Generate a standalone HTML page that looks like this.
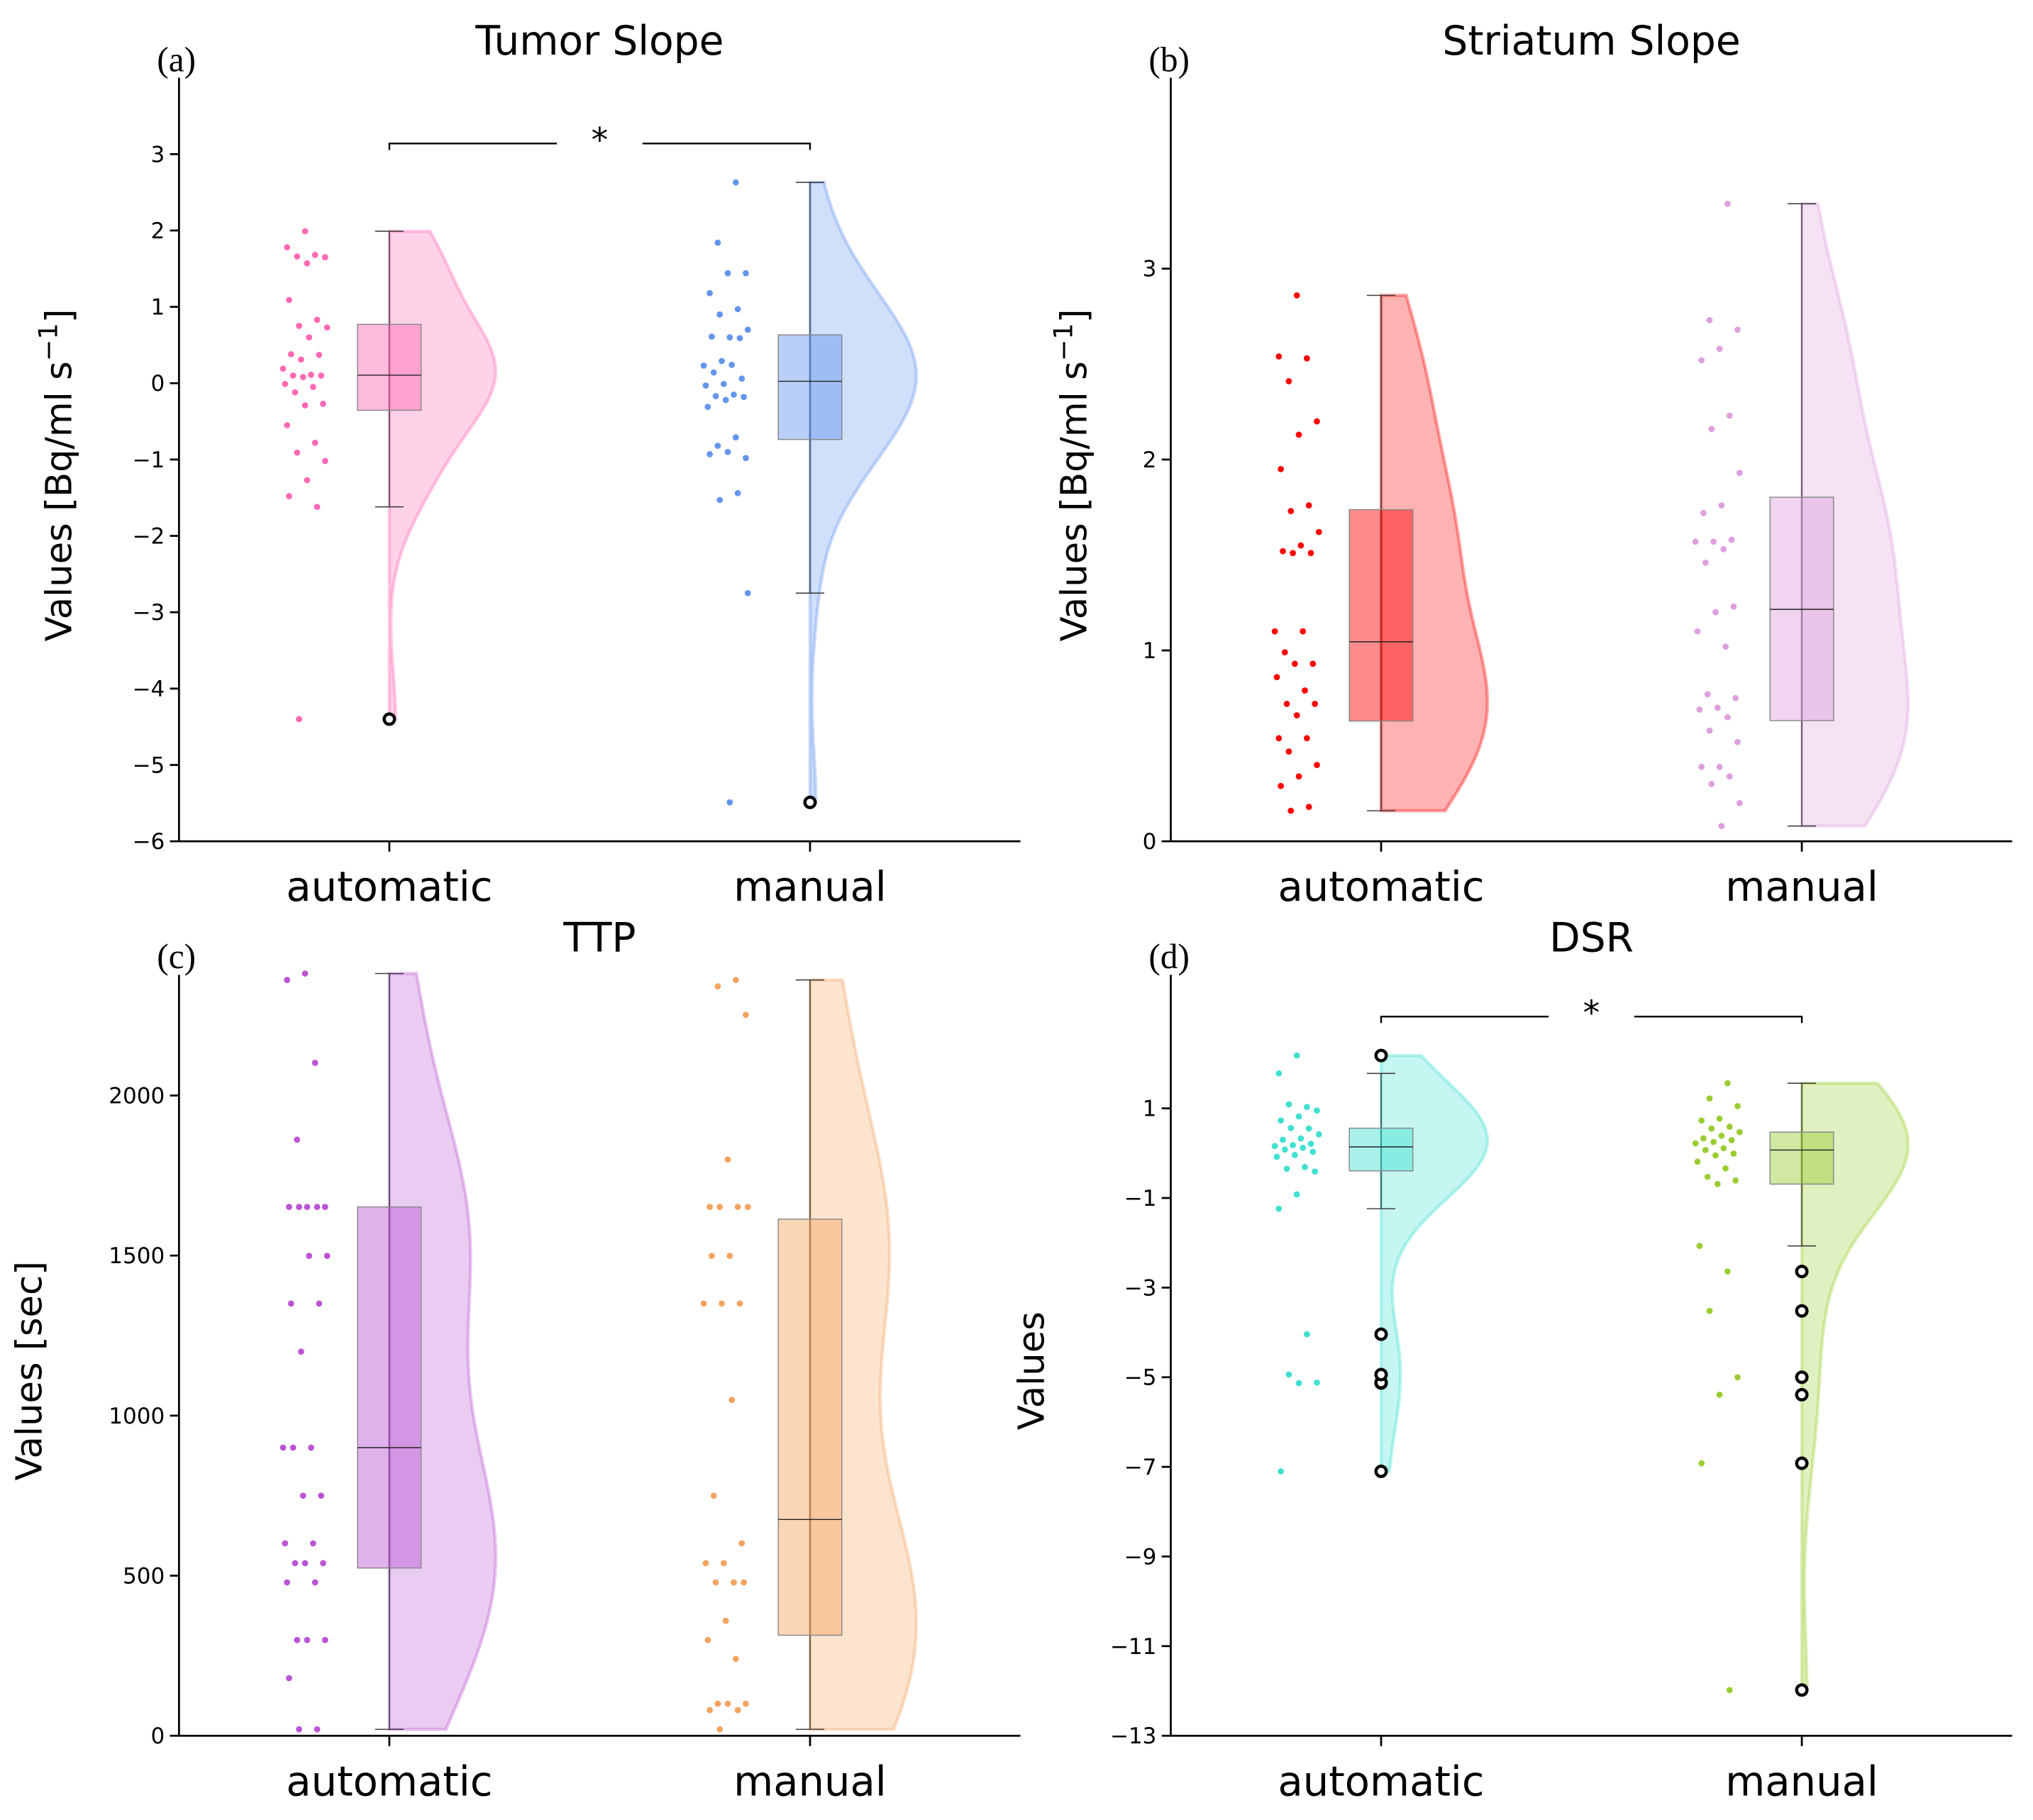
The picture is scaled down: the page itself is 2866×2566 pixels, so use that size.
<!DOCTYPE html>
<html><head><meta charset="utf-8">
<style>
html,body{margin:0;padding:0;background:#fff;}
svg{display:block;}
text{font-family:"DejaVu Sans","Liberation Sans",sans-serif;fill:#000;}
.ser{font-family:"Liberation Serif","DejaVu Serif",serif;}
</style></head>
<body>
<svg id="fig" xmlns="http://www.w3.org/2000/svg" width="2866" height="2566" viewBox="0 0 1568 1404"></svg>
<script>
// ---- data ----
const categories = ["automatic", "manual"];
const tumorAuto = [1.99,1.78,1.68,1.66,1.65,1.57,1.09,0.83,0.75,0.73,0.60,0.38,0.37,0.31,0.19,0.11,0.10,0.10,0.08,-0.01,-0.05,-0.12,-0.27,-0.29,-0.55,-0.78,-0.91,-1.02,-1.27,-1.48,-1.62,-4.40];
const tumorManual = [2.63,1.84,1.44,1.44,1.18,0.97,0.90,0.70,0.60,0.61,0.59,0.29,0.23,0.24,0.14,0.06,-0.01,-0.03,-0.15,-0.17,-0.18,-0.22,-0.31,-0.71,-0.82,-0.98,-0.90,-0.93,-1.44,-1.53,-2.75,-5.49];
const striatumAuto = [2.86,2.54,2.53,2.41,2.20,2.13,1.95,1.76,1.73,1.62,1.55,1.52,1.51,1.51,1.10,1.10,0.99,0.93,0.93,0.86,0.79,0.72,0.72,0.66,0.54,0.54,0.47,0.40,0.34,0.29,0.18,0.16];
const striatumManual = [3.34,2.73,2.68,2.58,2.52,2.23,2.16,1.93,1.76,1.72,1.58,1.57,1.57,1.53,1.46,1.23,1.20,1.10,1.02,0.77,0.75,0.70,0.69,0.65,0.58,0.52,0.39,0.39,0.34,0.30,0.20,0.08];
const ttpAuto = [2381,2361,2102,1862,1652,1652,1652,1652,1652,1499,1499,1350,1350,1200,900,900,900,750,750,601,601,539,539,539,479,479,299,299,299,180,20,20];
const ttpManual = [2361,2341,2252,1800,1652,1652,1652,1652,1499,1499,1350,1350,1350,1049,750,601,539,539,479,479,479,359,299,240,100,100,100,80,80,20];
const dsrAuto = [2.18,1.78,1.03,1.09,0.95,0.82,0.73,0.55,0.56,0.42,0.33,0.30,0.21,0.18,0.16,0.12,0.08,0.03,-0.04,-0.08,-0.31,-0.35,-0.41,-0.92,-1.24,-4.04,-4.94,-5.12,-5.13,-7.10];
const dsrManual = [1.56,1.22,1.05,0.77,0.73,0.59,0.55,0.47,0.39,0.33,0.29,0.25,0.22,0.11,0.07,-0.01,-0.05,-0.19,-0.34,-0.53,-0.61,-0.69,-2.07,-2.64,-3.52,-5.00,-5.39,-6.92,-11.98];
const tumorTicks = [-6,-5,-4,-3,-2,-1,0,1,2,3];
const striatumTicks = [0,1,2,3];
const ttpTicks = [0,500,1000,1500,2000];
const dsrTicks = [-13,-11,-9,-7,-5,-3,-1,1];
const tumorTickLabels = ["−6","−5","−4","−3","−2","−1","0","1","2","3"];
const striatumTickLabels = ["0","1","2","3"];
const ttpTickLabels = ["0","500","1000","1500","2000"];
const dsrTickLabels = ["−13","−11","−9","−7","−5","−3","−1","1"];

const NS = "http://www.w3.org/2000/svg";
const fig = document.getElementById("fig");
function mk(tag, attrs, parent) {
  const e = document.createElementNS(NS, tag);
  for (const k in attrs) e.setAttribute(k, attrs[k]);
  (parent || fig).appendChild(e);
  return e;
}
function quant(s, p) { const pos = (s.length - 1) * p, lo = Math.floor(pos), hi = Math.ceil(pos); return s[lo] + (s[hi] - s[lo]) * (pos - lo); }
function stats(d) {
  const s = d.slice().sort((a, b) => a - b);
  const q1 = quant(s, 0.25), med = quant(s, 0.5), q3 = quant(s, 0.75), iqr = q3 - q1;
  const lo = s.filter(v => v >= q1 - 1.5 * iqr)[0];
  const hiArr = s.filter(v => v <= q3 + 1.5 * iqr); const hi = hiArr[hiArr.length - 1];
  const out = s.filter(v => v < lo || v > hi);
  return { q1, med, q3, lo, hi, out, min: s[0], max: s[s.length - 1] };
}
function kde(d) {
  const n = d.length, m = d.reduce((a, b) => a + b, 0) / n;
  const sd = Math.sqrt(d.reduce((a, b) => a + (b - m) * (b - m), 0) / (n - 1));
  const bw = sd * Math.pow(n, -0.2);
  return x => d.reduce((a, v) => a + Math.exp(-0.5 * ((x - v) / bw) ** 2), 0);
}

const panels = [
  { key: "tumor", label: "(a)", title: "Tumor Slope", ytitle: "sup", left: 138, right: 787, top: 60, bottom: 649, ymin: -6, ymax: 4.0,
    ticks: tumorTicks, tickLabels: tumorTickLabels, series: [tumorAuto, tumorManual], colors: ["#ff69b4", "#6495ed"], sig: true, ytx: 55 },
  { key: "striatum", label: "(b)", title: "Striatum Slope", ytitle: "sup", left: 903, right: 1552, top: 60, bottom: 649, ymin: 0, ymax: 4.0,
    ticks: striatumTicks, tickLabels: striatumTickLabels, series: [striatumAuto, striatumManual], colors: ["#ff0000", "#dda0dd"], sig: false, ytx: 838 },
  { key: "ttp", label: "(c)", title: "TTP", ytitle: "Values [sec]", left: 138, right: 787, top: 752, bottom: 1339, ymin: 0, ymax: 2377,
    ticks: ttpTicks, tickLabels: ttpTickLabels, series: [ttpAuto, ttpManual], colors: ["#ba55d3", "#f4a460"], sig: false, ytx: 32 },
  { key: "dsr", label: "(d)", title: "DSR", ytitle: "Values", left: 903, right: 1552, top: 752, bottom: 1339, ymin: -13, ymax: 3.98,
    ticks: dsrTicks, tickLabels: dsrTickLabels, series: [dsrAuto, dsrManual], colors: ["#40e0d0", "#9acd32"], sig: true, ytx: 805 }
];

panels.forEach(P => {
  const g = mk("g", {});
  
  
  const y = v => P.bottom - (v - P.ymin) / (P.ymax - P.ymin) * (P.bottom - P.top);
  const x = i => P.left + (i + 0.5) / categories.length * (P.right - P.left);

  const t = mk("text", { x: (P.left + P.right) / 2, y: P.top - 18, "text-anchor": "middle", "font-size": 31 }, g);
  t.textContent = P.title;
  
  
  const pl = mk("text", { x: P.left - 17, y: P.top - 5, "text-anchor": "start", "font-size": 27, class: "ser" }, g);
  pl.textContent = P.label;
  
  

  const yt = mk("text", { x: 0, y: 0, "text-anchor": "middle", "font-size": 28, transform: `translate(${P.ytx},${(P.top + P.bottom) / 2 + 12}) rotate(-90)` }, g);
  if (P.ytitle === "sup") {
    yt.appendChild(document.createTextNode("Values [Bq/ml s"));
    const sp = mk("tspan", { dy: -11, "font-size": 20 }, yt); sp.textContent = "−1";
    const sp2 = mk("tspan", { dy: 11 }, yt); sp2.textContent = "]";
  } else yt.textContent = P.ytitle;
  
  

  P.ticks.forEach((v, i) => {
    const tk = mk("line", { x1: P.left - 7, x2: P.left, y1: y(v), y2: y(v), stroke: "#000", "stroke-width": 1.5 }, g);
    
    
    const tl = mk("text", { x: P.left - 11, y: y(v) + 6, "text-anchor": "end", "font-size": 17 }, g);
    tl.textContent = P.tickLabels[i];
    
    
  });

  P.series.forEach((d, i) => {
    const cx = x(i), col = P.colors[i], s = stats(d), f = kde(d);
    const N = 160, pts = [];
    let maxd = 0; const vals = [];
    for (let k = 0; k <= N; k++) { const v = s.min + (s.max - s.min) * k / N; const dd = f(v); vals.push([v, dd]); if (dd > maxd) maxd = dd; }
    vals.forEach(([v, dd]) => pts.push(`${(cx + 82 * dd / maxd).toFixed(2)},${y(v).toFixed(2)}`));
    const poly = `M${cx},${y(s.min)} L` + pts.join(" L") + ` L${cx},${y(s.max)} Z`;
    const vi = mk("path", { d: poly, fill: col, "fill-opacity": 0.3, stroke: col, "stroke-opacity": 0.35, "stroke-width": 2.5 }, g);
    
    
    const wl = mk("line", { x1: cx, x2: cx, y1: y(s.lo), y2: y(s.hi), stroke: "#333", "stroke-width": 0.8 }, g);
    
    
    [s.lo, s.hi].forEach(v => {
      const c = mk("line", { x1: cx - 11, x2: cx + 11, y1: y(v), y2: y(v), stroke: "#333", "stroke-width": 0.8 }, g);
      
      
    });
    const bx = mk("rect", { x: cx - 24.5, y: y(s.q3), width: 49, height: y(s.q1) - y(s.q3), fill: col, "fill-opacity": 0.45, stroke: "#888", "stroke-width": 0.8 }, g);
    
    
    const md = mk("line", { x1: cx - 24.5, x2: cx + 24.5, y1: y(s.med), y2: y(s.med), stroke: "#222", "stroke-width": 0.8 }, g);
    
    
    s.out.forEach(v => {
      const o = mk("circle", { cx: cx, cy: y(v), r: 4, fill: "#fff", stroke: "#000", "stroke-width": 2.4 }, g);
      
      
    });
    d.forEach((v, k) => {
      const j = (((k * 37 + 11 + i * 5) % 23) / 22 - 0.5) * 34;
      const p = mk("circle", { cx: cx - 65 + j, cy: y(v), r: 2.4, fill: col }, g);
      
      
    });
    const xt = mk("line", { x1: cx, x2: cx, y1: P.bottom, y2: P.bottom + 8, stroke: "#000", "stroke-width": 1.5 }, g);
    
    
    const xl = mk("text", { x: cx, y: P.bottom + 46, "text-anchor": "middle", "font-size": 31.5 }, g);
    xl.textContent = categories[i];
    
    
  });

  const ax = mk("path", { d: `M${P.left},${P.top} L${P.left},${P.bottom} L${P.right},${P.bottom}`, fill: "none", stroke: "#000", "stroke-width": 1.5 }, g);
  
  

  if (P.sig) {
    const s0 = stats(P.series[0]), s1 = stats(P.series[1]);
    const topv = Math.max(s0.max, s1.max);
    const by = y(topv) - 30, x0 = x(0), x1 = x(1), mid = (x0 + x1) / 2;
    const br = mk("path", { d: `M${x0},${by + 5} L${x0},${by} L${mid - 33},${by} M${mid + 33},${by} L${x1},${by} L${x1},${by + 5}`, fill: "none", stroke: "#000", "stroke-width": 1.3 }, g);
    
    
    const st = mk("text", { x: mid, y: by + 6, "text-anchor": "middle", "font-size": 26 }, g);
    st.textContent = "*";
    
    
  }
});
</script>
</body></html>
